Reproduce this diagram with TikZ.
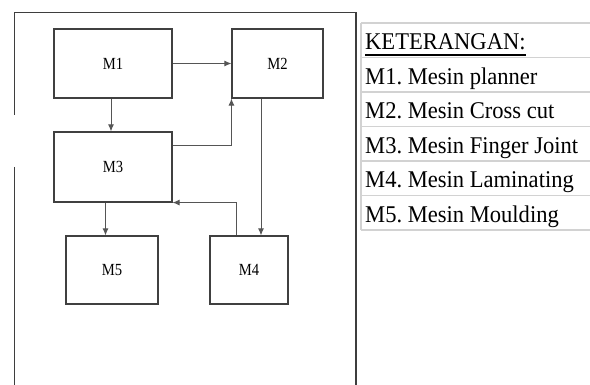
\documentclass[tikz,border=0pt]{standalone}
\usepackage{fontspec}
\setmainfont{Liberation Serif}
\newfontfamily\legendfont[FakeStretch=0.94]{Liberation Serif}
\newfontfamily\labelfont[FakeStretch=0.86]{Liberation Serif}
\usetikzlibrary{arrows.meta}

\definecolor{framegray}{HTML}{3E3E3E}
\definecolor{boxgray}{HTML}{404040}
\definecolor{linkgray}{HTML}{555555}
\definecolor{rulegray}{HTML}{D2D2D2}

\tikzset{
  machine/.style={draw=boxgray, line width=1.1pt, rectangle, inner sep=0pt,
    font=\labelfont\fontsize{17pt}{20pt}\selectfont},
  link/.style={draw=linkgray, line width=1pt,
    -{Latex[length=7pt,width=6pt]}},
  frameline/.style={draw=framegray, line width=1.1pt},
  rowrule/.style={draw=rulegray, line width=1.6pt},
  legendtext/.style={anchor=base west, inner sep=0pt,
    font=\legendfont\fontsize{24pt}{28pt}\selectfont\frenchspacing}
}

\begin{document}
\begin{tikzpicture}[x=1pt,y=-1pt]
  \useasboundingbox (0,0) rectangle (590,385);

  % outer frame of the layout (open at the bottom, gap on the left side)
  \draw[frameline] (14.3,115) -- (14.3,12.3) -- (356,12.3) -- (356,385);
  \draw[frameline] (14.3,167) -- (14.3,385);

  % machines
  \node[machine, minimum width=118pt, minimum height=69pt] (m1) at (113,63.5) {M1};
  \node[machine, minimum width=91pt,  minimum height=69pt] (m2) at (277.5,63.5) {M2};
  \node[machine, minimum width=118pt, minimum height=70pt] (m3) at (113,167) {M3};
  \node[machine, minimum width=92pt,  minimum height=68pt] (m5) at (112,270) {M5};
  \node[machine, minimum width=78pt,  minimum height=68pt] (m4) at (249,270) {M4};

  % material flow
  \draw[link] (m1.east) -- (m2.west);
  \draw[link] ([xshift=-2pt]m1.south) -- ([xshift=-2pt]m3.north);
  \draw[link] ([yshift=21pt]m3.east) -| (m2.south west);
  \draw[link] ([xshift=-16.5pt]m2.south) -- ([xshift=-16.5pt]m2.south |- m4.north);
  \draw[link] ([xshift=-13pt]m4.north) |- (m3.south east);
  \draw[link] ([xshift=-7.5pt]m3.south) -- ([xshift=-7.5pt]m3.south |- m5.north);

  % legend table
  \draw[rowrule] (361,23) -- (361,230.5);
  \foreach \yy in {23,57.5,92,126.5,161,195.5,230} {
    \draw[rowrule] (361,\yy) -- (590,\yy);
  }
  \node[legendtext] (k0) at (365,50)    {KETERANGAN:};
  \draw[line width=1.6pt] ([yshift=-5pt]k0.base west) -- ([yshift=-5pt]k0.base east);
  \node[legendtext] (k1) at (365,84.5)  {M1. Mesin planner};
  \node[legendtext] (k2) at (365,119)   {M2. Mesin Cross cut};
  \node[legendtext] (k3) at (365,153.5) {M3. Mesin Finger Joint};
  \node[legendtext] (k4) at (365,188)   {M4. Mesin Laminating};
  \node[legendtext] (k5) at (365,222.5) {M5. Mesin Moulding};
\end{tikzpicture}
\end{document}
